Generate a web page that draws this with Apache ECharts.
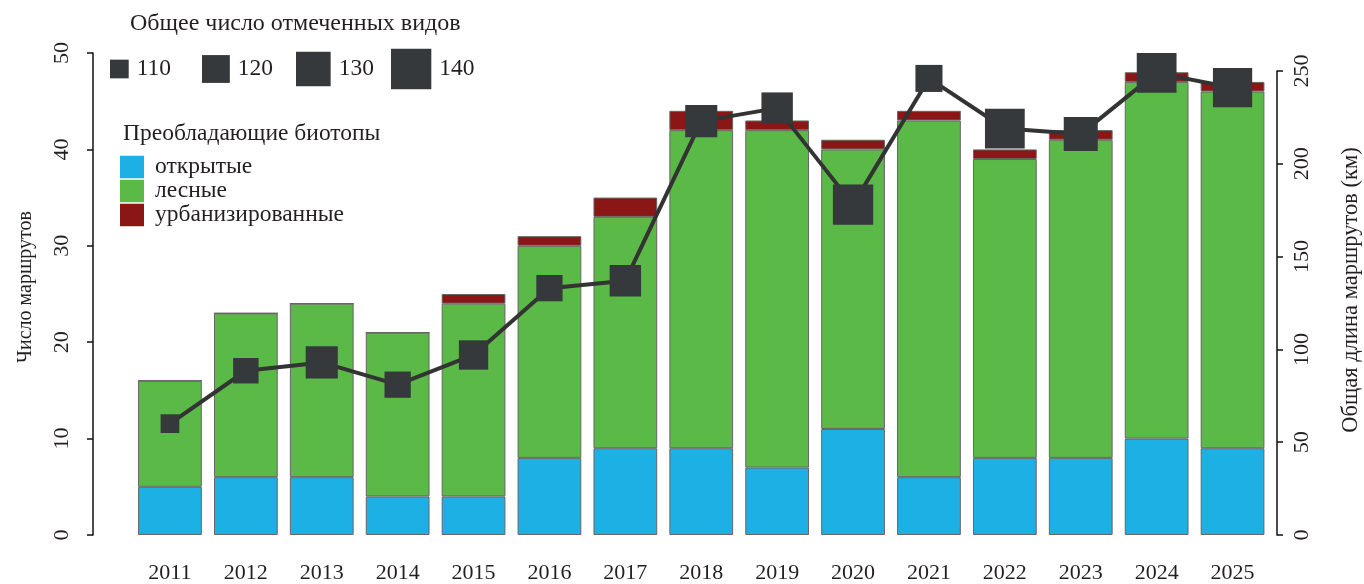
<!DOCTYPE html>
<html>
<head>
<meta charset="utf-8">
<title>Маршруты</title>
<script src="https://cdn.jsdelivr.net/npm/echarts@6/dist/echarts.min.js"></script>
<style>
  html, body { margin: 0; padding: 0; background: #fff; }
  #chart { width: 1364px; height: 584px; }
</style>
</head>
<body>
<div id="chart"></div>
<script>
// data
const years = ['2011', '2012', '2013', '2014', '2015', '2016', '2017', '2018', '2019', '2020', '2021', '2022', '2023', '2024', '2025'];
const openRoutes = [5, 6, 6, 4, 4, 8, 9, 9, 7, 11, 6, 8, 8, 10, 9];
const forestRoutes = [11, 17, 18, 17, 20, 22, 24, 33, 35, 29, 37, 31, 33, 37, 37];
const urbanRoutes = [0, 0, 0, 0, 1, 1, 2, 2, 1, 1, 1, 1, 1, 1, 1];
const lengthKm = [60, 88.5, 93, 81, 97, 133, 137, 223, 230, 178, 246, 219, 216, 249, 241];
const speciesCount = [110, 117, 126, 118, 122, 118, 125, 126, 125, 140, 119, 139, 129, 139, 138];
const speciesLegend = [110, 120, 130, 140];
const leftTicks = [0, 10, 20, 30, 40, 50];
const rightTicks = [0, 50, 100, 150, 200, 250];

const FONT = '"Liberation Serif", "DejaVu Serif", serif';
const INK = '#231f20';
const MARK = '#35393c';

// square side grows with area ~ species count
function sideFor(n) {
  return Math.sqrt(350 + 42.5 * (n - 110));
}

const chart = echarts.init(document.getElementById('chart'));

const sizeLegendLeft = [110, 202, 296, 391];
const sizeLegends = speciesLegend.map((v, i) => {
  const s = sideFor(v);
  return {
    data: [{ name: String(v), icon: 'rect' }],
    left: sizeLegendLeft[i],
    top: 69 - Math.max(s, 24) / 2,
    padding: 0,
    itemWidth: s,
    itemHeight: s,
    selectedMode: false,
    itemStyle: { color: MARK, borderWidth: 0, opacity: 1 },
    textStyle: { fontFamily: FONT, fontSize: 23.5, color: INK, padding: [0, 0, 0, 3] }
  };
});

const option = {
  backgroundColor: '#fff',
  animation: false,
  title: [
    {
      text: 'Общее число отмеченных видов',
      left: 130, top: 12, padding: 0,
      textStyle: { fontFamily: FONT, fontSize: 24, fontWeight: 'normal', color: INK }
    },
    {
      text: 'Преобладающие биотопы',
      left: 123, top: 122, padding: 0,
      textStyle: { fontFamily: FONT, fontSize: 23.5, fontWeight: 'normal', color: INK }
    }
  ],
  legend: [
    {
      data: ['открытые', 'лесные', 'урбанизированные'],
      orient: 'vertical',
      left: 120, top: 155, padding: 0,
      itemWidth: 24, itemHeight: 22.5, itemGap: 0,
      icon: 'rect',
      selectedMode: false,
      itemStyle: { borderWidth: 0 },
      textStyle: { fontFamily: FONT, fontSize: 23.5, lineHeight: 22.5, color: INK, padding: [0, 0, 0, 6] }
    }
  ].concat(sizeLegends),
  grid: [
    { left: 132, right: 93.5, top: 53, bottom: 49, outerBoundsMode: 'none', containLabel: false },
    { left: 132, right: 93.5, top: 71, bottom: 49, outerBoundsMode: 'none', containLabel: false }
  ],
  xAxis: [
    {
      type: 'category', gridIndex: 0, data: years,
      axisLine: { show: false }, axisTick: { show: false },
      axisLabel: { fontFamily: FONT, fontSize: 22, color: INK, margin: 27 }
    },
    {
      type: 'category', gridIndex: 1, data: years, show: false
    }
  ],
  yAxis: [
    {
      type: 'value', gridIndex: 0, position: 'left', offset: 39,
      min: leftTicks[0], max: leftTicks[leftTicks.length - 1], interval: 10,
      name: 'Число маршрутов', nameLocation: 'middle', nameGap: 57, nameRotate: 90,
      nameTextStyle: { fontFamily: FONT, fontSize: 20, color: INK, padding: [0, 0, 0, 14] },
      axisLine: { show: true, lineStyle: { color: '#111', width: 1.5 } },
      axisTick: { show: true, inside: false, length: 6, lineStyle: { color: '#111', width: 1.5 } },
      axisLabel: { fontFamily: FONT, fontSize: 22, color: INK, rotate: 90, margin: 20 },
      splitLine: { show: false }
    },
    {
      type: 'value', gridIndex: 1, position: 'right', offset: 6.5,
      min: rightTicks[0], max: rightTicks[rightTicks.length - 1], interval: 50,
      name: 'Общая длина маршрутов (км)', nameLocation: 'middle', nameGap: 63, nameRotate: 90,
      nameTextStyle: { fontFamily: FONT, fontSize: 22.5, color: INK, padding: [0, 0, 0, 26] },
      axisLine: { show: true, lineStyle: { color: '#111', width: 1.5 } },
      axisTick: { show: true, inside: false, length: 6, lineStyle: { color: '#111', width: 1.5 } },
      axisLabel: { fontFamily: FONT, fontSize: 22, color: INK, rotate: 90, margin: 14 },
      splitLine: { show: false }
    }
  ],
  series: [
    {
      name: 'открытые', type: 'bar', stack: 'routes', data: openRoutes,
      barCategoryGap: '16%',
      itemStyle: { color: '#1cb0e5', borderColor: '#666', borderWidth: 1 }
    },
    {
      name: 'лесные', type: 'bar', stack: 'routes', data: forestRoutes,
      itemStyle: { color: '#5ab947', borderColor: '#666', borderWidth: 1 }
    },
    {
      name: 'урбанизированные', type: 'bar', stack: 'routes', data: urbanRoutes,
      itemStyle: { color: '#8a1616', borderColor: '#666', borderWidth: 1 }
    },
    {
      name: 'Общая длина', type: 'line', xAxisIndex: 1, yAxisIndex: 1,
      data: lengthKm, clip: false, z: 5,
      symbol: 'rect',
      symbolSize: (v, p) => sideFor(speciesCount[p.dataIndex]),
      lineStyle: { color: '#333', width: 4 },
      itemStyle: { color: MARK, opacity: 1 }
    }
  ].concat(speciesLegend.map(v => ({
    name: String(v), type: 'scatter', data: [], symbol: 'rect',
    itemStyle: { color: MARK, opacity: 1 }
  })))
};

chart.setOption(option);
</script>
</body>
</html>
